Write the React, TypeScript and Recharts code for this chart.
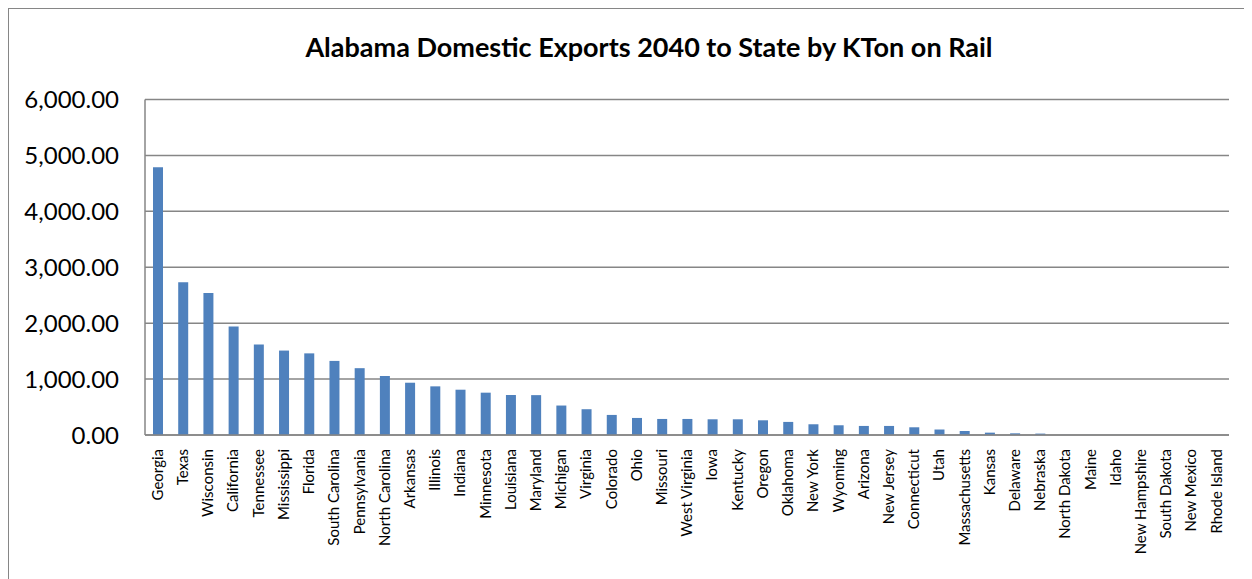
import React from 'react'
import { BarChart, Bar, XAxis, YAxis, CartesianGrid } from 'recharts'

// states, in the order shown on the category axis
const states = [
  'Georgia', 'Texas', 'Wisconsin', 'California', 'Tennessee', 'Mississippi', 'Florida',
  'South Carolina', 'Pennsylvania', 'North Carolina', 'Arkansas', 'Illinois', 'Indiana',
  'Minnesota', 'Louisiana', 'Maryland', 'Michigan', 'Virginia', 'Colorado', 'Ohio',
  'Missouri', 'West Virginia', 'Iowa', 'Kentucky', 'Oregon', 'Oklahoma', 'New York',
  'Wyoming', 'Arizona', 'New Jersey', 'Connecticut', 'Utah', 'Massachusetts', 'Kansas',
  'Delaware', 'Nebraska', 'North Dakota', 'Maine', 'Idaho', 'New Hampshire',
  'South Dakota', 'New Mexico', 'Rhode Island'
]

// KTon on rail
const ktons = [
  4790, 2730, 2540, 1940, 1620, 1510, 1460,
  1325, 1195, 1055, 935, 870, 810,
  757, 715, 713, 527, 461, 359, 305,
  287, 287, 281, 281, 263, 234, 192,
  174, 162, 162, 138, 98, 72, 42,
  30, 25, 2, 1, 1, 0,
  0, 0, 0
]

const yTicks = [0, 1000, 2000, 3000, 4000, 5000, 6000]

const data = states.map((state, i) => ({ state, value: ktons[i] }))

const FONT = 'Lato, "Open Sans", sans-serif'

function StateTick(props: any) {
  const { x, y, payload } = props
  return (
    <text
      x={x}
      y={y + 6}
      transform={`rotate(-90, ${x}, ${y + 6})`}
      textAnchor="end"
      dy="0.35em"
      fontSize={15}
      fontFamily={FONT}
      fill="#000"
    >
      {payload.value}
    </text>
  )
}

const fmt = (v: number) =>
  v.toLocaleString('en-US', { minimumFractionDigits: 2, maximumFractionDigits: 2 })

export default function App() {
  return (
    <div
      style={{
        position: 'relative',
        width: 1238,
        height: 575,
        border: '1px solid #868686',
        background: '#fff',
        fontFamily: FONT
      }}
    >
      <div
        style={{
          position: 'absolute',
          top: 21,
          left: 0,
          width: 1280,
          textAlign: 'center',
          fontSize: 27,
          fontWeight: 'bold',
          color: '#000'
        }}
      >
        Alabama Domestic Exports 2040 to State by KTon on Rail
      </div>
      <BarChart
        width={1238}
        height={575}
        data={data}
        margin={{ top: 90.5, right: 18, bottom: 0, left: 0 }}
        barCategoryGap={0}
      >
        <CartesianGrid vertical={false} stroke="#868686" strokeWidth={1.5} />
        <XAxis
          dataKey="state"
          interval={0}
          height={149}
          tickLine={false}
          axisLine={{ stroke: '#868686', strokeWidth: 1.5 }}
          tick={<StateTick />}
        />
        <YAxis
          width={136}
          domain={[0, 6000]}
          ticks={yTicks}
          tickFormatter={fmt}
          axisLine={{ stroke: '#868686', strokeWidth: 1.5 }}
          tickLine={false}
          tickMargin={20}
          tick={{ fontSize: 24, fill: '#000', fontFamily: FONT }}
        />
        <Bar dataKey="value" fill="#4F81BD" barSize={10} isAnimationActive={false} />
      </BarChart>
    </div>
  )
}
